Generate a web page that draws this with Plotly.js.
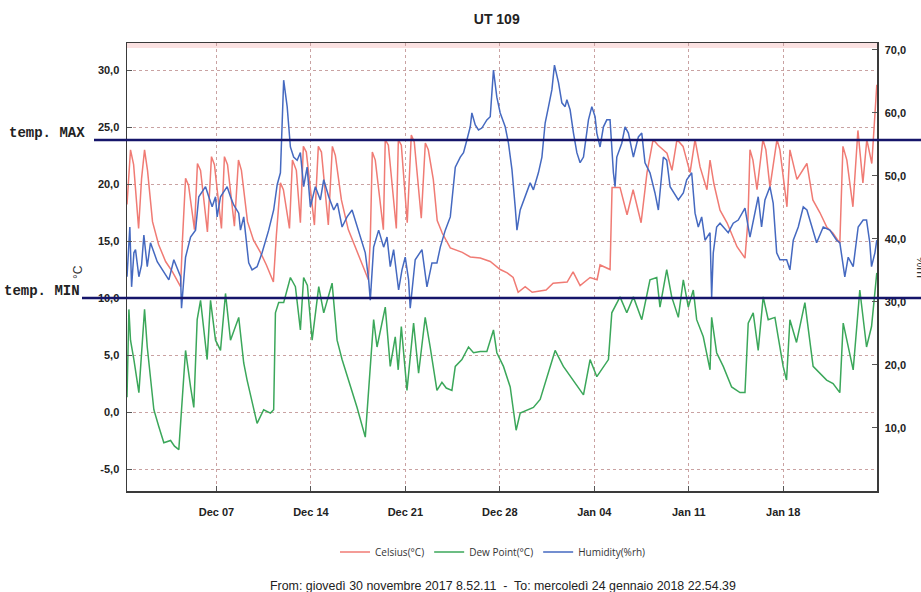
<!DOCTYPE html>
<html>
<head>
<meta charset="utf-8">
<script src="https://cdn.plot.ly/plotly-3.0.1.min.js"></script>
<style>
  html, body { margin: 0; padding: 0; background: #fff; }
  #chart { width: 921px; height: 592px; }
</style>
</head>
<body>
<div id="chart"></div>
<script>
// Logger readings, times given as fractional days since 2017-11-30 00:00

// Celsius (°C), left axis
const celsiusDay = [0.37,0.63,0.86,1.23,1.45,1.67,1.89,2.26,2.71,3.23,3.74,4.34,4.48,4.71,4.93,5.37,5.59,5.82,6.33,6.63,6.85,7.37,7.59,7.82,8.33,8.63,8.85,9.30,9.74,10.26,10.70,11.22,11.44,11.74,11.96,12.41,12.63,12.92,13.22,13.44,13.66,14.26,14.55,14.78,15.29,15.59,15.81,16.26,16.77,17.37,17.81,18.26,18.40,18.55,18.77,19.37,19.51,19.74,20.33,20.48,20.70,21.14,21.44,21.66,22.18,22.48,22.70,23.07,23.36,23.73,24.33,25.22,25.81,26.55,27.29,28.03,28.55,28.99,29.36,29.88,30.40,31.43,31.95,32.99,33.43,33.95,34.69,35.21,35.43,36.17,36.32,36.91,37.43,37.88,38.47,38.91,39.36,39.73,40.39,40.76,41.13,41.58,42.10,42.47,42.84,43.35,43.58,43.87,44.32,44.84,45.58,46.17,46.39,46.54,46.76,47.06,47.50,47.72,48.02,48.54,48.76,49.28,49.50,50.02,50.76,51.20,51.72,52.24,52.68,53.20,53.43,53.72,54.17,54.54,54.91,55.20,55.57,55.94];
const celsiusVal = [18.2,23.0,21.7,16.1,20.5,23.0,21.2,16.7,14.7,13.2,12.3,11.0,15.1,20.5,19.9,16.0,21.8,21.2,15.8,22.4,21.7,16.1,22.4,21.7,16.3,22.1,21.2,16.7,15.1,14.0,12.9,11.4,15.5,20.1,19.5,16.1,22.1,21.2,16.6,23.3,22.8,16.4,23.3,22.8,16.4,23.3,22.5,18.6,16.0,14.2,12.9,11.6,15.1,22.8,22.1,16.0,23.9,23.4,16.1,23.9,23.4,16.6,24.3,23.7,17.0,23.6,23.0,20.4,16.8,15.7,14.4,14.0,13.6,13.5,13.2,12.5,12.2,11.8,10.5,11.0,10.5,10.7,11.3,11.4,12.3,11.1,11.8,11.6,12.9,12.5,19.7,19.7,17.3,19.5,16.6,21.0,23.9,23.4,22.7,21.2,23.9,23.3,21.0,23.9,21.5,19.5,22.1,20.0,17.7,16.6,14.5,13.5,16.8,23.0,22.1,19.5,23.9,23.0,19.7,23.9,23.0,18.0,23.0,20.4,21.8,18.6,17.5,16.2,15.7,14.8,23.3,22.1,18.0,24.7,20.1,23.9,21.8,28.7];

// Dew point (°C), left axis
const dewDay = [0.37,0.51,0.63,0.88,1.25,1.50,1.67,1.87,2.36,2.73,3.10,3.60,3.89,4.21,4.46,4.71,5.08,5.32,5.57,5.82,6.31,6.56,6.93,7.30,7.67,8.04,8.65,9.02,9.27,9.76,10.01,10.50,11.00,11.24,11.37,11.61,11.98,12.48,12.85,13.22,13.46,13.74,14.09,14.58,14.95,15.57,15.94,16.31,16.80,17.42,18.03,18.28,18.65,18.90,19.51,19.88,20.25,20.47,20.70,21.12,21.61,21.98,22.47,22.84,23.34,23.71,24.03,24.45,24.70,25.19,25.68,26.05,26.55,27.04,27.53,27.78,28.27,28.77,29.21,29.51,30.03,30.49,30.99,31.60,32.10,32.71,33.45,34.20,34.69,35.19,36.05,36.30,36.91,37.41,37.90,38.52,39.13,39.63,39.87,40.37,40.74,41.23,41.60,41.97,42.34,42.59,43.08,43.58,43.70,44.07,44.56,45.18,45.80,46.17,46.41,46.78,47.15,47.52,47.89,48.39,48.63,49.00,49.25,49.50,49.99,50.61,51.22,51.72,52.22,52.70,53.20,53.45,53.82,54.19,54.68,55.18,55.55,55.94];
const dewVal = [1.3,9.0,6.3,4.6,1.7,6.3,9.0,5.7,0.2,-1.3,-2.7,-2.5,-3.0,-3.3,1.3,5.4,2.2,0.4,8.1,9.8,4.6,9.8,6.3,5.4,10.4,6.3,8.3,4.3,2.8,0.4,-1.0,0.2,-0.1,0.2,8.7,9.6,9.6,11.8,11.0,7.2,11.8,11.1,6.3,11.0,8.7,11.3,6.3,4.6,2.8,0.4,-2.2,2.2,8.1,5.7,9.2,4.0,6.6,3.7,7.5,1.9,7.8,3.4,8.3,5.7,1.9,2.6,2.1,1.9,4.0,4.6,5.7,5.2,5.3,5.3,7.2,5.2,4.0,2.2,-1.6,-0.1,0.2,0.4,1.1,3.4,5.4,4.0,2.8,1.5,4.6,3.1,4.6,8.7,10.1,8.7,10.1,8.1,11.6,11.8,9.2,12.5,10.1,8.3,11.6,9.2,10.7,8.1,6.6,3.7,8.3,5.2,4.0,2.2,1.7,1.7,7.8,8.7,5.4,10.1,8.1,8.3,6.6,4.0,2.8,8.1,6.1,9.6,4.0,3.4,2.8,2.5,1.7,7.8,5.7,3.7,10.7,5.7,7.5,12.2];

// Humidity (%rh), right axis
const humDay = [0.37,0.58,0.71,0.88,1.00,1.25,1.45,1.62,1.87,2.11,2.61,2.98,3.47,3.84,4.34,4.41,4.71,5.08,5.45,5.69,6.19,6.43,6.68,6.93,7.05,7.30,7.79,8.04,8.28,8.65,8.78,9.02,9.39,9.64,10.01,10.38,10.87,11.24,11.50,11.74,11.98,12.24,12.48,12.72,12.98,13.22,13.46,13.72,13.96,14.33,14.70,14.95,15.32,15.69,15.96,16.31,16.68,17.05,17.42,17.66,18.03,18.28,18.40,18.65,19.02,19.39,19.64,19.88,20.13,20.50,20.75,20.99,21.24,21.36,21.73,22.23,22.60,22.97,23.34,23.59,23.96,24.33,24.70,25.07,25.31,25.56,25.81,25.93,26.18,26.42,26.67,27.04,27.29,27.53,27.78,28.03,28.40,28.64,28.90,29.14,29.27,29.51,29.88,30.25,30.49,30.86,31.12,31.36,31.61,31.86,32.05,32.35,32.60,32.84,32.97,33.21,33.46,33.71,33.95,34.20,34.57,34.82,35.06,35.19,35.43,35.68,35.93,36.17,36.42,36.54,36.67,37.04,37.28,37.53,37.90,38.27,38.52,38.76,39.13,39.50,39.75,40.12,40.37,40.62,41.23,41.60,41.85,42.22,42.47,42.71,42.96,43.21,43.58,43.70,43.82,44.07,44.32,44.93,45.30,45.67,46.17,46.54,47.15,47.40,47.65,48.02,48.26,48.52,48.76,49.26,49.50,49.75,50.12,50.49,50.76,51.11,51.48,51.97,52.46,52.96,53.20,53.57,53.82,54.19,54.56,54.93,55.18,55.42,55.55,55.80,55.94];
const humVal = [34.0,41.9,32.4,37.8,38.3,34.0,35.9,40.6,35.6,39.4,36.4,35.1,33.5,36.7,34.0,29.0,37.1,40.3,41.4,46.7,48.3,46.7,45.1,46.7,43.5,46.7,48.3,46.7,45.4,44.1,41.4,43.5,36.2,35.1,35.6,37.8,41.4,44.6,48.6,50.5,65.2,61.0,54.6,53.0,52.5,53.7,48.3,51.4,45.1,48.3,46.2,49.4,46.7,44.6,45.7,41.9,43.5,44.6,41.9,40.3,37.8,33.5,30.3,38.7,41.4,38.7,40.3,35.6,38.3,31.9,35.1,37.1,33.5,29.0,36.7,38.3,32.4,36.2,36.2,38.7,41.4,43.5,51.4,53.0,53.7,55.7,57.8,60.0,58.1,57.3,57.6,58.9,59.4,66.8,62.5,60.0,57.8,55.2,51.0,45.1,41.4,44.6,46.7,48.9,47.8,50.5,53.0,58.4,61.0,63.7,67.6,64.8,61.6,61.0,62.1,60.5,56.8,53.7,52.1,53.0,58.9,61.0,59.4,56.8,54.6,57.8,58.9,58.9,50.5,48.3,53.0,55.2,57.8,56.8,53.0,56.2,56.8,52.1,50.5,47.3,44.6,53.0,52.5,48.3,46.2,47.3,49.4,50.5,44.1,41.9,43.5,39.8,41.0,30.8,37.8,41.9,42.5,41.0,42.5,43.0,44.9,40.3,46.7,41.9,46.2,48.3,45.7,37.8,36.7,36.7,35.1,39.8,41.9,45.1,44.6,41.9,39.4,41.9,41.4,39.8,39.4,34.0,37.1,35.6,41.9,43.0,43.0,39.4,35.6,37.8,39.8];

// Axis ticks
const tempTicks = [-5, 0, 5, 10, 15, 20, 25, 30];
const humTicks = [10, 20, 30, 40, 50, 60, 70];

// Comfort band drawn across the chart (°C)
const TEMP_MAX = 23.85;
const TEMP_MIN = 10.0;

const PERIOD_START = '2017-11-30 08:52:11';
const PERIOD_END = '2018-01-24 22:54:39';

const T0 = Date.UTC(2017, 10, 30);
const toDate = d => new Date(T0 + d * 864e5).toISOString().slice(0, 19).replace('T', ' ');
// "30,0" style labels with a plain hyphen for negatives
const fmtTick = v => v.toFixed(1).replace('.', ',');

const lineW = 1.5;
const traces = [
  { x: celsiusDay.map(toDate), y: celsiusVal, name: 'Celsius(°C)', type: 'scatter', mode: 'lines',
    line: { color: '#f07b74', width: lineW }, yaxis: 'y' },
  { x: dewDay.map(toDate), y: dewVal, name: 'Dew Point(°C)', type: 'scatter', mode: 'lines',
    line: { color: '#3ba75a', width: lineW }, yaxis: 'y' },
  { x: humDay.map(toDate), y: humVal, name: 'Humidity(%rh)', type: 'scatter', mode: 'lines',
    line: { color: '#4569c0', width: lineW }, yaxis: 'y2' }
];

const tickFont = { family: 'Liberation Sans, Arial, sans-serif', size: 11, color: '#222', weight: 'bold' };
const gridColor = '#c9a2a2';
const axisLine = '#3a3a3a';

const layout = {
  width: 921, height: 592,
  margin: { l: 127, r: 44, t: 43, b: 101 },
  paper_bgcolor: '#ffffff', plot_bgcolor: '#ffffff',
  title: {
    text: '<b>UT 109</b>',
    font: { family: 'Liberation Sans, Arial, sans-serif', size: 14, color: '#222' },
    xref: 'paper', x: 0.493, xanchor: 'center',
    yref: 'container', y: 1 - 19 / 592, yanchor: 'middle'
  },
  xaxis: {
    type: 'date', range: [PERIOD_START, PERIOD_END],
    tick0: '2017-12-07', dtick: 7 * 864e5, tickformat: '%b %d',
    ticks: 'inside', ticklen: 5, tickcolor: '#555', tickwidth: 1,
    showline: true, linecolor: axisLine, linewidth: 1.5, mirror: true,
    showgrid: true, gridcolor: gridColor, griddash: 'dot', gridwidth: 1,
    zeroline: false, tickfont: tickFont, ticklabelstandoff: 10
  },
  yaxis: {
    range: [-6.93, 32.37], tickvals: tempTicks, ticktext: tempTicks.map(fmtTick),
    ticks: 'inside', ticklen: 5, tickcolor: '#555',
    showline: true, linecolor: axisLine, linewidth: 1.5, mirror: true,
    showgrid: true, gridcolor: gridColor, griddash: 'dot', gridwidth: 1,
    zeroline: false, tickfont: tickFont, ticklabelstandoff: 4
  },
  yaxis2: {
    overlaying: 'y', side: 'right',
    range: [0, 71.1], tickvals: humTicks, ticktext: humTicks.map(fmtTick),
    ticks: 'inside', ticklen: 5, tickcolor: '#555',
    showline: true, linecolor: axisLine, linewidth: 1.5,
    showgrid: false, zeroline: false, tickfont: tickFont, ticklabelstandoff: 4
  },
  showlegend: true,
  legend: {
    orientation: 'h', xref: 'paper', x: 0.488, xanchor: 'center',
    yref: 'paper', y: (491 - 552) / 448, yanchor: 'middle',
    font: { family: 'Open Sans, Liberation Sans, sans-serif', size: 10, color: '#333' },
    bgcolor: 'rgba(0,0,0,0)', itemwidth: 30
  },
  shapes: [
    { type: 'rect', xref: 'paper', yref: 'paper', x0: 0, x1: 1, y0: 0.989, y1: 1,
      fillcolor: '#fbe1e1', line: { width: 0 }, layer: 'below' },
    { type: 'line', xref: 'paper', yref: 'y', x0: -0.044, x1: 1.06, y0: TEMP_MAX, y1: TEMP_MAX,
      line: { color: '#15156a', width: 2.5 } },
    { type: 'line', xref: 'paper', yref: 'y', x0: -0.06, x1: 1.06, y0: TEMP_MIN, y1: TEMP_MIN,
      line: { color: '#15156a', width: 2.5 } }
  ],
  annotations: [
    { text: 'temp. MAX', xref: 'paper', yref: 'y', x: -0.0535, y: TEMP_MAX,
      xanchor: 'right', yanchor: 'bottom', yshift: -3, showarrow: false,
      font: { family: 'Liberation Mono, Courier New, monospace', size: 14, color: '#222', weight: 'bold' } },
    { text: 'temp. MIN', xref: 'paper', yref: 'y', x: -0.0595, y: TEMP_MIN,
      xanchor: 'right', yanchor: 'bottom', yshift: -3, showarrow: false,
      font: { family: 'Liberation Mono, Courier New, monospace', size: 14, color: '#222', weight: 'bold' } },
    { text: '°C', xref: 'paper', yref: 'paper', x: -0.0653, y: 0.489,
      xanchor: 'center', yanchor: 'middle', textangle: -90, showarrow: false,
      font: { family: 'Liberation Sans, Arial, sans-serif', size: 12, color: '#333' } },
    { text: '%rh', xref: 'paper', yref: 'paper', x: 1.058, y: 0.5,
      xanchor: 'center', yanchor: 'middle', textangle: 90, showarrow: false,
      font: { family: 'Liberation Sans, Arial, sans-serif', size: 12, color: '#333' } },
    { text: 'From: giovedì 30 novembre 2017 8.52.11  -  To: mercoledì 24 gennaio 2018 22.54.39',
      xref: 'paper', yref: 'paper', x: 0.501, y: (491 - 586) / 448,
      xanchor: 'center', yanchor: 'middle', showarrow: false,
      font: { family: 'Liberation Sans, Arial, sans-serif', size: 12.4, color: '#222' } }
  ]
};

Plotly.newPlot('chart', traces, layout, { displayModeBar: false, staticPlot: true });
</script>
</body>
</html>
